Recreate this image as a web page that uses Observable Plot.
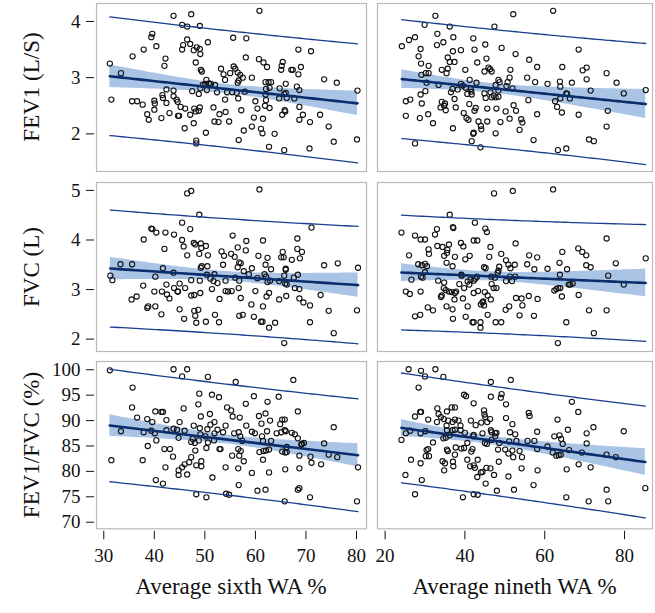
<!DOCTYPE html>
<html><head><meta charset="utf-8">
<script src="https://cdn.jsdelivr.net/npm/d3@7"></script>
<script src="https://cdn.jsdelivr.net/npm/@observablehq/plot@0.6"></script>
<style>
body{margin:0;background:#fff;}
#wrap{position:relative;width:655px;height:613px;font-family:"Liberation Serif",serif;color:#111;overflow:hidden;}
#wrap svg{position:absolute;left:0;top:0;}
.ttl{position:absolute;font-size:23px;line-height:1;white-space:nowrap;transform:translate(-50%,-50%);}
.ttl.rot{transform:translate(-50%,-50%) rotate(-90deg);}
</style></head><body><div id="wrap"></div>
<script>
// ---------- data ----------
const xTitles = ["Average sixth WA %", "Average nineth WA %"];
const yTitles = ["FEV1 (L/S)", "FVC (L)", "FEV1/FVC (%)"];
const xTicksSixth = [30, 40, 50, 60, 70, 80];
const xTicksNinth = [20, 40, 60, 80];
const yTicksFEV1 = [2, 3, 4];
const yTicksFVC = [2, 3, 4, 5];
const yTicksRatio = [70, 75, 80, 85, 90, 95, 100];

const fev1Sixth = [[60.8,4.19],[43.8,4.10],[47.3,4.13],[45.5,3.94],[46.5,3.91],[49.0,3.92],[39.6,3.78],[39.4,3.72],[55.6,3.71],[58.2,3.70],[46.5,3.68],[50.6,3.63],[40.4,3.56],[37.9,3.50],[45.7,3.58],[47.1,3.60],[48.4,3.54],[45.5,3.50],[47.8,3.49],[49.0,3.51],[49.1,3.42],[68.5,3.50],[71.0,3.47],[35.7,3.38],[42.2,3.34],[58.1,3.36],[60.7,3.33],[61.6,3.27],[65.4,3.28],[65.2,3.21],[48.2,3.27],[42.0,3.21],[62.3,3.19],[69.0,3.19],[31.2,3.25],[49.2,3.14],[49.4,3.11],[53.2,3.16],[55.7,3.20],[56.0,3.16],[65.1,3.14],[67.1,3.14],[67.4,3.14],[68.5,3.06],[33.4,3.08],[53.7,3.06],[55.0,3.08],[56.5,3.09],[57.0,3.05],[57.5,3.00],[59.3,3.00],[54.0,2.96],[56.7,2.95],[56.5,2.91],[50.3,2.96],[50.1,2.89],[50.8,2.90],[51.2,2.89],[52.0,2.87],[49.6,2.87],[62.0,2.92],[62.6,2.92],[63.1,2.92],[66.0,2.89],[73.6,2.97],[76.1,2.91],[49.1,2.81],[48.8,2.71],[50.4,2.78],[47.5,2.76],[52.4,2.74],[54.4,2.74],[55.4,2.74],[56.3,2.73],[57.9,2.75],[62.1,2.80],[62.8,2.82],[64.8,2.81],[65.7,2.71],[66.0,2.73],[68.2,2.84],[68.7,2.78],[80.2,2.77],[42.4,2.79],[43.8,2.77],[41.6,2.69],[41.7,2.64],[31.5,2.61],[35.6,2.58],[36.6,2.58],[37.7,2.52],[40.0,2.59],[40.1,2.54],[42.4,2.55],[43.8,2.67],[44.4,2.61],[44.6,2.57],[45.2,2.48],[46.1,2.45],[47.9,2.45],[49.0,2.47],[48.8,2.41],[48.2,2.40],[62.0,2.70],[62.1,2.60],[60.0,2.58],[64.7,2.63],[66.2,2.64],[67.7,2.63],[54.0,2.61],[56.6,2.63],[51.7,2.47],[60.4,2.45],[61.9,2.50],[62.8,2.46],[68.7,2.48],[65.8,2.42],[65.9,2.40],[40.0,2.43],[38.6,2.35],[38.9,2.25],[41.4,2.28],[43.0,2.37],[44.7,2.32],[44.9,2.32],[47.1,2.34],[52.9,2.35],[54.1,2.39],[52.7,2.21],[51.9,2.22],[54.8,2.22],[57.2,2.42],[59.7,2.29],[61.5,2.27],[65.3,2.34],[69.4,2.34],[68.7,2.25],[70.8,2.21],[72.8,2.34],[46.0,2.10],[47.8,2.19],[50.2,2.02],[57.7,2.06],[59.3,2.13],[61.1,2.09],[61.4,2.01],[63.8,2.00],[74.5,2.13],[56.7,1.89],[48.3,1.88],[48.3,1.83],[75.5,1.86],[80.1,1.90],[62.7,1.77],[65.7,1.71],[70.7,1.74]];

const fev1Ninth = [[62.1,4.19],[52.1,4.13],[32.6,4.10],[29.9,3.94],[36.2,3.91],[47.4,3.91],[33.1,3.78],[26.0,3.67],[27.5,3.72],[37.1,3.72],[42.1,3.70],[33.0,3.58],[34.6,3.63],[24.2,3.56],[28.9,3.51],[45.1,3.59],[49.2,3.53],[42.4,3.50],[37.0,3.47],[39.0,3.49],[68.5,3.50],[28.4,3.38],[35.7,3.36],[52.7,3.42],[56.1,3.32],[29.0,3.25],[30.9,3.21],[36.2,3.28],[37.4,3.28],[43.1,3.27],[35.7,3.16],[34.2,3.14],[35.4,3.08],[30.2,3.08],[30.9,3.08],[29.1,3.05],[45.4,3.34],[45.9,3.18],[46.3,3.15],[44.9,3.11],[46.7,3.11],[40.1,3.14],[51.4,3.14],[58.1,3.19],[64.4,3.19],[69.5,3.13],[70.5,3.18],[75.5,3.08],[30.4,2.91],[33.4,2.87],[36.9,2.80],[38.2,2.79],[39.0,2.89],[39.5,2.86],[41.2,2.96],[42.9,2.91],[40.2,2.82],[41.5,2.80],[41.6,2.75],[40.6,2.71],[41.7,2.70],[48.4,2.96],[47.7,2.87],[48.7,2.92],[50.7,2.92],[51.2,3.00],[50.4,2.85],[51.9,2.81],[55.6,3.00],[57.6,2.92],[60.7,2.89],[63.8,2.93],[63.9,2.84],[66.8,2.91],[70.5,2.97],[71.5,2.77],[78.0,2.91],[79.8,2.72],[85.3,2.78],[30.1,2.76],[28.9,2.70],[36.5,2.74],[37.4,2.62],[37.7,2.47],[34.2,2.57],[34.8,2.50],[35.2,2.42],[35.0,2.54],[33.9,2.47],[30.8,2.35],[29.2,2.54],[25.2,2.58],[26.3,2.61],[25.2,2.32],[28.7,2.28],[44.9,2.72],[46.4,2.74],[47.2,2.68],[45.2,2.64],[48.4,2.77],[47.7,2.65],[48.4,2.66],[46.7,2.65],[42.7,2.46],[42.4,2.41],[41.1,2.53],[39.7,2.37],[40.4,2.28],[40.9,2.25],[45.6,2.45],[47.9,2.45],[50.2,2.40],[52.2,2.51],[52.8,2.41],[51.2,2.27],[55.9,2.60],[58.1,2.35],[62.6,2.58],[63.1,2.48],[63.9,2.63],[64.3,2.38],[65.4,2.72],[65.6,2.71],[66.3,2.63],[68.5,2.34],[75.8,2.41],[32.0,2.19],[37.0,2.10],[43.4,2.22],[44.0,2.14],[44.1,2.08],[45.6,2.22],[48.9,2.21],[54.1,2.26],[54.4,2.20],[53.7,2.07],[47.7,2.01],[42.2,2.02],[42.1,2.00],[41.7,1.87],[43.9,1.76],[57.2,1.89],[71.1,1.90],[72.3,1.87],[75.5,2.13],[63.3,1.71],[65.4,1.74],[27.5,1.83]];

const fvcSixth = [[46.5,4.94],[47.3,4.99],[60.8,5.02],[48.9,4.51],[45.5,4.35],[39.4,4.23],[39.6,4.22],[40.4,4.15],[42.2,4.15],[43.9,4.11],[47.1,4.22],[71.1,4.25],[37.9,4.01],[45.5,4.00],[47.8,3.94],[48.1,3.91],[49.2,3.93],[50.2,3.88],[49.3,3.84],[45.8,3.87],[42.0,3.82],[55.5,4.09],[58.2,3.98],[61.5,3.99],[68.3,4.03],[53.3,3.77],[53.8,3.68],[55.2,3.72],[55.9,3.66],[56.5,3.85],[58.1,3.79],[60.6,3.68],[65.4,3.76],[68.3,3.82],[69.2,3.76],[65.1,3.65],[65.6,3.65],[67.2,3.60],[68.8,3.63],[62.4,3.64],[46.5,3.69],[48.9,3.72],[50.6,3.69],[33.3,3.51],[35.6,3.51],[41.7,3.43],[43.8,3.34],[49.4,3.47],[49.2,3.44],[50.5,3.47],[53.6,3.50],[56.8,3.55],[57.1,3.53],[56.5,3.45],[57.7,3.37],[59.3,3.43],[62.0,3.50],[63.1,3.41],[66.0,3.42],[66.0,3.40],[73.6,3.49],[76.3,3.53],[80.3,3.44],[31.3,3.28],[31.7,3.19],[40.2,3.26],[47.3,3.19],[50.4,3.30],[51.9,3.31],[51.1,3.22],[51.7,3.17],[52.5,3.13],[49.0,3.18],[54.1,3.18],[56.0,3.24],[56.8,3.18],[58.7,3.31],[60.4,3.23],[61.8,3.31],[62.1,3.26],[62.4,3.15],[62.9,3.18],[64.7,3.17],[65.7,3.28],[65.9,3.12],[66.2,3.10],[67.6,3.24],[68.4,3.30],[37.8,3.08],[42.4,3.10],[43.9,3.03],[44.6,2.96],[44.7,2.96],[45.0,3.12],[46.1,3.03],[40.0,2.96],[41.5,2.96],[42.5,2.90],[43.0,2.82],[47.3,2.88],[47.9,2.89],[49.1,2.93],[51.4,3.01],[54.1,2.97],[54.6,2.96],[55.3,2.97],[56.7,3.03],[60.0,2.97],[62.7,2.93],[62.2,2.86],[67.8,3.03],[68.7,3.01],[35.5,2.80],[36.5,2.86],[52.9,2.81],[57.1,2.83],[64.7,2.80],[66.1,2.87],[68.7,2.82],[69.5,2.74],[72.9,2.89],[38.8,2.66],[38.6,2.63],[40.2,2.66],[45.0,2.60],[47.9,2.57],[48.7,2.59],[41.4,2.50],[48.1,2.47],[52.0,2.49],[56.8,2.47],[57.5,2.49],[59.2,2.70],[61.5,2.66],[59.7,2.45],[70.8,2.68],[74.5,2.57],[80.1,2.58],[45.9,2.41],[48.3,2.33],[50.2,2.35],[52.8,2.34],[61.1,2.35],[61.4,2.35],[63.9,2.33],[62.7,2.23],[70.8,2.34],[75.5,2.12],[65.7,1.92]];

const fvcNinth = [[47.3,4.94],[52.0,4.99],[62.1,5.02],[36.2,4.51],[24.1,4.15],[27.5,4.09],[28.9,4.01],[30.0,4.01],[33.0,4.22],[32.5,4.11],[37.0,4.26],[37.1,4.24],[42.5,4.35],[45.1,4.23],[45.5,4.16],[75.5,4.03],[30.9,3.81],[31.0,3.72],[33.1,3.88],[34.4,3.86],[35.6,3.80],[36.0,3.91],[35.5,3.74],[39.0,3.94],[39.6,3.87],[42.2,3.99],[43.1,3.99],[46.4,3.86],[52.7,3.93],[40.1,3.61],[41.2,3.68],[37.5,3.66],[34.8,3.68],[26.0,3.69],[46.1,3.66],[49.1,3.72],[50.3,3.59],[50.9,3.50],[51.4,3.43],[52.5,3.50],[56.1,3.69],[58.1,3.65],[55.6,3.51],[57.4,3.41],[60.7,3.42],[64.4,3.76],[63.7,3.54],[65.6,3.41],[68.4,3.83],[69.4,3.76],[70.4,3.69],[70.4,3.49],[71.5,3.45],[77.8,3.53],[85.3,3.63],[28.3,3.51],[29.2,3.49],[30.0,3.52],[30.5,3.47],[30.0,3.35],[26.6,3.20],[29.0,3.26],[29.4,3.24],[35.4,3.54],[36.9,3.47],[39.1,3.30],[39.2,3.28],[44.8,3.45],[45.2,3.43],[48.6,3.46],[48.4,3.38],[48.2,3.34],[47.5,3.24],[46.6,3.26],[43.0,3.26],[42.6,3.22],[41.4,3.20],[42.2,3.18],[40.7,3.16],[41.1,3.10],[38.6,3.11],[39.8,3.03],[50.3,3.17],[51.3,3.26],[51.8,3.17],[52.6,3.26],[63.8,3.30],[66.4,3.10],[66.0,3.10],[67.0,3.12],[75.9,3.28],[79.8,3.10],[33.3,3.18],[34.8,3.14],[34.7,3.03],[35.2,2.99],[25.2,2.96],[26.2,2.91],[28.9,2.96],[34.0,2.85],[34.2,2.88],[36.0,2.96],[36.7,2.95],[37.5,2.93],[37.8,2.96],[42.2,2.93],[43.3,2.97],[45.0,2.95],[45.7,2.88],[46.7,3.11],[47.2,3.03],[47.9,3.03],[39.5,2.82],[37.4,2.80],[46.5,2.80],[44.4,2.74],[44.6,2.76],[62.4,2.98],[62.9,3.01],[63.4,3.03],[63.9,3.03],[64.3,2.86],[68.5,2.89],[52.8,2.83],[54.2,2.82],[56.0,2.87],[58.2,2.81],[54.4,2.68],[50.2,2.59],[51.1,2.66],[53.7,2.48],[57.3,2.47],[30.7,2.64],[32.0,2.58],[35.4,2.66],[36.9,2.60],[40.7,2.66],[44.0,2.70],[44.8,2.68],[28.8,2.49],[27.5,2.46],[37.0,2.41],[40.2,2.45],[45.7,2.49],[41.9,2.34],[42.2,2.34],[43.9,2.34],[43.9,2.23],[47.7,2.34],[49.1,2.34],[71.1,2.58],[75.5,2.58],[65.4,2.34],[72.3,2.12],[63.3,1.92]];

const ratioSixth = [[31.2,99.9],[43.8,100.1],[46.5,100.1],[45.5,98.7],[50.6,98.6],[56.1,97.6],[67.5,98.0],[35.7,96.5],[48.9,95.3],[51.4,95.1],[52.8,94.6],[59.7,94.8],[64.6,94.7],[62.4,93.7],[58.1,93.3],[48.7,93.2],[35.6,92.6],[45.8,92.4],[54.4,92.6],[55.2,92.0],[40.2,91.8],[41.4,91.7],[41.7,91.7],[36.6,90.6],[38.6,90.3],[39.6,89.7],[42.4,90.1],[45.0,89.7],[49.2,90.8],[51.0,91.3],[51.9,89.7],[51.1,89.2],[55.5,90.8],[56.9,90.6],[60.7,90.9],[62.0,91.4],[62.9,90.0],[61.2,89.4],[68.4,91.8],[65.3,90.2],[65.8,90.2],[64.9,89.3],[33.4,87.9],[37.9,87.7],[39.4,88.0],[40.1,87.5],[42.4,88.1],[43.8,88.4],[44.5,88.2],[46.0,88.0],[47.8,89.0],[49.0,88.5],[50.5,88.3],[51.9,87.5],[52.5,88.2],[54.1,89.0],[53.6,87.7],[55.8,87.5],[56.7,87.7],[57.0,86.9],[58.2,89.0],[59.3,87.8],[59.9,87.5],[62.3,87.9],[64.2,87.5],[65.1,87.7],[65.8,88.1],[66.0,87.9],[67.2,87.6],[67.8,87.3],[68.4,86.5],[69.2,85.4],[69.6,85.6],[73.6,85.5],[75.5,88.7],[40.4,86.1],[38.7,85.0],[44.8,86.6],[47.6,86.4],[47.3,85.8],[48.0,85.6],[48.8,86.1],[49.1,87.3],[50.1,86.9],[50.6,85.7],[51.8,86.1],[57.4,86.0],[61.3,86.9],[61.5,86.0],[63.1,86.0],[61.6,84.0],[62.1,84.1],[62.7,84.3],[65.3,83.9],[65.9,83.7],[66.2,84.8],[69.1,85.3],[42.0,84.4],[43.1,84.4],[48.1,84.1],[50.3,84.6],[52.9,84.4],[53.1,84.4],[56.6,84.4],[57.1,84.0],[43.7,82.9],[47.3,82.8],[55.4,83.1],[56.8,83.1],[57.7,82.0],[60.8,83.8],[61.5,82.3],[66.2,83.8],[68.7,83.1],[70.9,82.9],[74.5,83.3],[76.2,82.8],[31.5,82.2],[37.7,82.2],[42.2,80.8],[44.8,80.2],[45.5,80.8],[46.0,81.4],[46.9,81.8],[49.3,82.0],[48.3,81.2],[49.3,81.0],[44.8,79.3],[46.5,79.4],[54.1,80.8],[56.6,80.6],[59.3,79.7],[62.7,79.8],[65.9,80.4],[68.7,80.6],[71.1,81.7],[73.0,81.4],[80.3,80.8],[40.3,78.3],[41.7,77.6],[51.5,78.8],[56.7,77.3],[48.3,75.5],[50.3,74.9],[54.2,75.6],[54.8,75.4],[60.4,76.2],[62.0,76.4],[68.4,76.4],[68.7,76.7],[65.8,74.1],[70.8,74.9],[80.1,74.1]];

const ratioNinth = [[25.9,100.1],[29.0,99.8],[30.0,98.7],[32.6,100.1],[34.6,98.6],[46.5,97.6],[51.5,98.0],[28.4,96.5],[39.8,95.1],[40.3,94.8],[46.5,94.7],[49.2,95.2],[49.0,94.5],[42.2,93.4],[50.3,93.2],[66.8,93.7],[68.4,91.7],[33.1,92.4],[33.4,91.3],[34.0,90.7],[35.5,91.8],[36.7,92.6],[37.5,92.6],[28.8,91.7],[29.0,91.7],[27.5,90.8],[30.8,90.2],[33.0,89.7],[34.7,90.3],[35.4,89.0],[35.8,90.0],[36.9,89.7],[37.5,90.2],[38.4,90.0],[38.9,89.0],[44.8,92.0],[44.9,91.2],[45.1,90.7],[46.3,90.3],[44.1,89.6],[42.7,89.1],[45.6,89.7],[41.5,90.0],[40.0,87.6],[50.3,90.5],[51.9,89.3],[56.0,91.5],[56.2,90.9],[63.2,90.2],[65.8,88.2],[72.2,88.7],[79.8,87.9],[24.1,86.2],[25.2,87.5],[26.3,88.0],[28.9,87.5],[30.1,87.9],[32.0,85.7],[34.6,86.5],[35.2,86.6],[35.5,88.1],[36.2,87.1],[36.9,88.1],[37.5,88.2],[38.9,88.1],[42.2,87.2],[42.1,86.9],[44.4,87.5],[46.5,88.1],[46.7,87.7],[47.6,87.5],[47.9,87.6],[47.6,86.9],[46.7,86.2],[48.6,85.6],[51.3,87.7],[52.6,87.3],[51.1,85.9],[52.9,86.0],[55.7,86.0],[58.1,87.8],[57.4,86.0],[62.4,86.9],[63.7,87.1],[64.1,86.4],[64.5,85.4],[70.5,87.5],[70.5,85.5],[30.4,84.2],[30.8,84.4],[30.2,83.0],[31.0,83.0],[35.5,84.3],[35.7,84.0],[37.7,84.7],[39.1,84.5],[39.8,84.6],[40.6,85.6],[41.9,84.4],[41.6,83.9],[45.0,85.6],[45.5,85.4],[48.3,84.3],[50.1,84.3],[51.9,84.1],[53.7,84.0],[58.1,84.4],[60.7,84.9],[62.0,83.7],[62.9,83.1],[63.5,83.2],[64.0,83.3],[66.1,84.2],[69.3,83.7],[75.5,83.3],[77.8,82.8],[26.5,82.3],[28.9,81.6],[34.4,82.0],[35.0,81.6],[37.0,81.9],[37.1,81.0],[34.8,80.2],[37.5,83.3],[40.6,82.3],[41.3,81.0],[42.2,81.2],[42.5,80.7],[43.2,82.3],[44.0,79.8],[44.4,79.9],[43.1,78.9],[45.4,80.7],[46.4,80.6],[47.3,79.3],[45.2,77.6],[50.9,83.5],[52.1,82.8],[54.3,82.8],[54.2,80.6],[50.9,79.0],[58.2,80.2],[65.5,80.4],[68.5,81.4],[71.5,80.8],[48.5,81.9],[25.1,79.3],[29.2,78.3],[27.5,75.5],[39.5,74.9],[42.2,75.5],[43.2,75.4],[48.0,76.2],[52.3,76.4],[57.2,77.3],[65.4,74.9],[71.0,74.1],[75.5,76.4],[75.9,74.1],[85.2,76.7]];

// ---------- layout ----------
const W = 655, H = 613;
const cols = [
  {left: 96, right: 366, domain: [28.56, 81.98], ticks: xTicksSixth},
  {left: 377, right: 652, domain: [18.1, 87.0], ticks: xTicksNinth}
];
const rows = [
  {top: 3, bottom: 171, domain: [1.33, 4.32], ticks: yTicksFEV1},
  {top: 182, bottom: 351, domain: [1.75, 5.16], ticks: yTicksFVC},
  {top: 361, bottom: 528.3, domain: [68.7, 101.63], ticks: yTicksRatio}
];
const panels = [
  [fev1Sixth, fev1Ninth],
  [fvcSixth, fvcNinth],
  [ratioSixth, ratioNinth]
];
const fitColor = "#0b2d6b", piColor = "#1a3d8f", bandColor = "#aac4e6";

// ordinary least squares with 95% confidence and prediction limits
function regression(data) {
  const xs = data.map(d => d[0]), ys = data.map(d => d[1]);
  const n = xs.length, mx = d3.mean(xs), my = d3.mean(ys);
  let sxx = 0, sxy = 0;
  for (let i = 0; i < n; i++) { sxx += (xs[i]-mx)**2; sxy += (xs[i]-mx)*(ys[i]-my); }
  const b = sxy / sxx, a = my - b * mx;
  let sse = 0;
  for (let i = 0; i < n; i++) sse += (ys[i] - a - b*xs[i])**2;
  const df = n - 2, s = Math.sqrt(sse / df), z = 1.959964;
  const t = z + (z**3 + z)/(4*df) + (5*z**5 + 16*z**3 + 3*z)/(96*df*df);
  const [x0, x1] = d3.extent(xs);
  return d3.range(61).map(i => {
    const x = x0 + (x1 - x0) * i / 60, f = a + b * x;
    const h = (x - mx)**2 / sxx;
    const ci = t * s * Math.sqrt(1/n + h), pi = t * s * Math.sqrt(1 + 1/n + h);
    return {x, fit: f, lo: f - ci, hi: f + ci, pl: f - pi, pu: f + pi};
  });
}

const wrap = document.getElementById("wrap");
rows.forEach((row, ri) => {
  cols.forEach((col, ci) => {
    const data = panels[ri][ci];
    const band = regression(data);
    const marks = [
      Plot.areaY(band, {x: "x", y1: "lo", y2: "hi", fill: bandColor}),
      Plot.dot(data, {x: d => d[0], y: d => d[1], r: 2.6, stroke: "#111", strokeWidth: 1.1, fill: "none"}),
      Plot.line(band, {x: "x", y: "pu", stroke: piColor, strokeWidth: 1.3}),
      Plot.line(band, {x: "x", y: "pl", stroke: piColor, strokeWidth: 1.3}),
      Plot.line(band, {x: "x", y: "fit", stroke: fitColor, strokeWidth: 2.6}),
      Plot.frame({stroke: "#b9b9b9", strokeWidth: 1.2})
    ];
    if (ci === 0) marks.push(Plot.axisY({ticks: row.ticks, tickSize: 8, tickPadding: 6, dx: -2, label: null, fontSize: 19, tickFormat: d3.format("d")}));
    if (ri === 2) marks.push(Plot.axisX({ticks: col.ticks, tickSize: 8.5, tickPadding: 9, dy: 2.5, label: null, fontSize: 19, tickFormat: d3.format("d")}));
    const chart = Plot.plot({
      width: W, height: H,
      marginLeft: col.left, marginRight: W - col.right,
      marginTop: row.top, marginBottom: H - row.bottom,
      x: {domain: col.domain, ...(ri === 2 ? {} : {axis: null})},
      y: {domain: row.domain, ...(ci === 0 ? {} : {axis: null})},
      style: {background: "transparent", fontFamily: "'Liberation Serif', serif", fontSize: "19px", color: "#111", overflow: "visible"},
      marks
    });
    chart.style.position = "absolute";
    chart.style.left = "0px";
    chart.style.top = "0px";
    wrap.appendChild(chart);
  });
});

// axis titles
yTitles.forEach((t, i) => {
  const d = document.createElement("div");
  d.className = "ttl rot";
  d.textContent = t;
  d.style.left = "31px";
  d.style.top = ((rows[i].top + rows[i].bottom) / 2) + "px";
  wrap.appendChild(d);
});
xTitles.forEach((t, i) => {
  const d = document.createElement("div");
  d.className = "ttl";
  d.textContent = t;
  d.style.left = ((cols[i].left + cols[i].right) / 2) + "px";
  d.style.top = "586px";
  wrap.appendChild(d);
});
</script></body></html>
